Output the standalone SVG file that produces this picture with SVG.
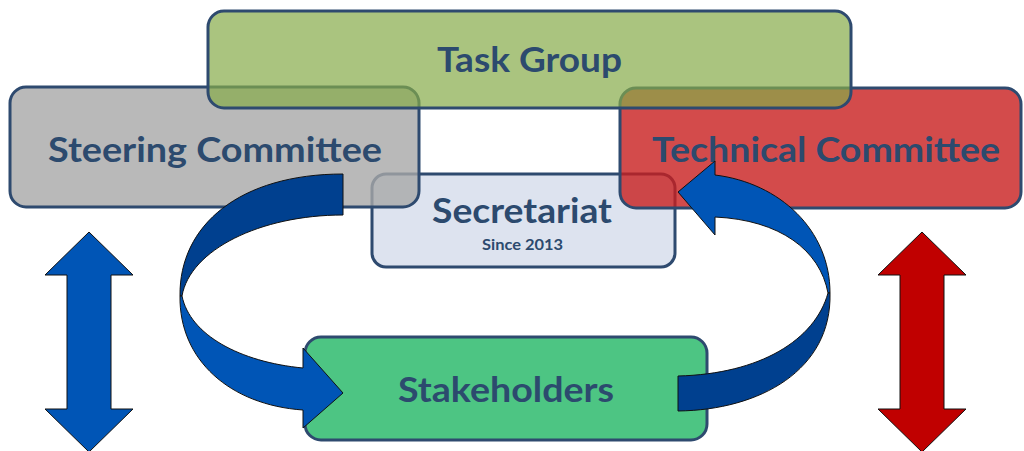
<svg xmlns="http://www.w3.org/2000/svg" width="1024" height="451" viewBox="0 0 1024 451">
<style>
.box{stroke:#2e4a6f;stroke-width:3}
.lbl{font-family:Lato,"Open Sans","Liberation Sans",sans-serif;font-weight:bold;fill:#2c4a6e;text-anchor:middle}
.big{font-size:35px}
.small{font-size:16px}
.ar{stroke:#111;stroke-width:1;stroke-linejoin:miter}
.dark{fill:#00408f}
.light{fill:#0055b6}
</style>
<rect width="1024" height="451" fill="#ffffff"/>
<g id="secretariat">
<rect class="box" x="372" y="174" width="303" height="93" rx="14" fill="#dde3ef"/>
<text class="lbl big" x="522" y="223" textLength="180" lengthAdjust="spacingAndGlyphs">Secretariat</text>
<text class="lbl small" x="522.5" y="250" textLength="81" lengthAdjust="spacingAndGlyphs">Since 2013</text>
</g>
<g id="steering-committee">
<rect class="box" x="10" y="87" width="409" height="120" rx="16" fill="#a8a8a8" fill-opacity="0.8"/>
<text class="lbl big" x="215" y="162" textLength="334" lengthAdjust="spacingAndGlyphs">Steering Committee</text>
</g>
<g id="technical-committee">
<rect class="box" x="620" y="88" width="401" height="120" rx="16" fill="#c81e1e" fill-opacity="0.8"/>
<text class="lbl big" x="826" y="162" textLength="348" lengthAdjust="spacingAndGlyphs">Technical Committee</text>
</g>
<g id="task-group">
<rect class="box" x="208" y="11" width="643" height="97" rx="16" fill="#86ab48" fill-opacity="0.7"/>
<text class="lbl big" x="529.5" y="72" textLength="185" lengthAdjust="spacingAndGlyphs">Task Group</text>
</g>
<g id="stakeholders">
<rect class="box" x="305" y="337" width="402" height="103" rx="16" fill="#4dc583"/>
<text class="lbl big" x="506" y="402" textLength="216" lengthAdjust="spacingAndGlyphs">Stakeholders</text>
</g>
<g id="connectors">
<path class="ar dark" d="M343,174 C240,174 179,225 180,296 L182,296 C190,250 260,215 343,215 Z"/>
<path class="ar light" d="M180,296 C179,360 230,405 303,410 L303,428 L343,393 L303,348 L303,368 C240,362 190,335 182,296 Z"/>
<path class="ar light" d="M678,192 L715,161 L715,175 C780,183 830,230 830,293 L828,293 C820,250 780,220 715,217 L715,235 Z"/>
<path class="ar dark" d="M830,293 C832,370 760,410 678,411 L678,376 C760,374 815,340 828,293 Z"/>
<path class="ar" fill="#0055b6" d="M89,232 L133,275 L111,275 L111,409 L133,409 L89,452 L45,409 L67,409 L67,275 L45,275 Z"/>
<path class="ar" fill="#c00000" d="M922,232 L966,275 L944,275 L944,409 L966,409 L922,452 L878,409 L900,409 L900,275 L878,275 Z"/>
</g>
</svg>
